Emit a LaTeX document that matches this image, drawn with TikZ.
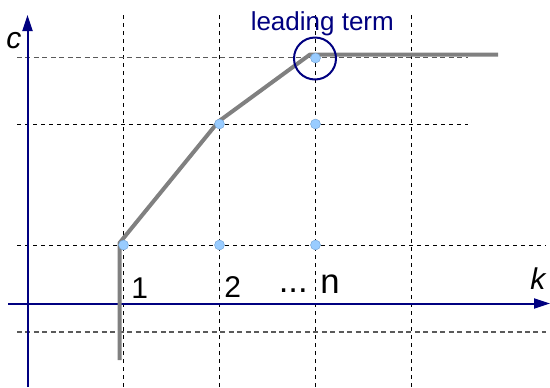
\documentclass[tikz,border=0pt]{standalone}
\usepackage{fontspec}
\setmainfont{Liberation Sans}
\usetikzlibrary{arrows.meta}
\definecolor{axisblue}{HTML}{000080}
\definecolor{dotblue}{HTML}{99CCFF}
\definecolor{dotedge}{HTML}{6F9FD0}
\definecolor{curvegray}{HTML}{808080}
\definecolor{gridgray}{HTML}{5A5A5A}
\tikzset{
  gridthin/.style={black, line width=0.75pt, dash pattern=on 3pt off 3pt},
  gridgrey/.style={gridgray, line width=1.1pt, dash pattern=on 3.75pt off 2.6pt},
  axisline/.style={axisblue, line width=1.5pt, -{Triangle[length=12pt,width=7.5pt]}},
  curve/.style={curvegray, line width=3pt, line join=round},
  dotnode/.style={circle, fill=dotblue, draw=dotedge, line width=0.3pt, minimum size=7.5pt, inner sep=0pt},
  lbl/.style={inner sep=0pt, anchor=base west, font=\fontsize{22.5}{24}\selectfont},
  lblbig/.style={inner sep=0pt, anchor=base west, font=\fontsize{26}{28}\selectfont},
}
\begin{document}
\begin{tikzpicture}[x=0.75pt, y=-0.75pt]
\useasboundingbox (0,0) rectangle (550,387);
% grid coordinates
\coordinate (v1t) at (123.5,15); \coordinate (v1b) at (123.5,387);
\coordinate (v2t) at (219.5,15); \coordinate (v2b) at (219.5,387);
\coordinate (v3t) at (315.5,15); \coordinate (v3b) at (315.5,387);
\coordinate (v4t) at (411.5,15); \coordinate (v4b) at (411.5,387);
\coordinate (h1l) at (17,57.5);  \coordinate (h1r) at (468,57.5);
\coordinate (h2l) at (17,124);   \coordinate (h2r) at (468,124);
\coordinate (h3l) at (17,245);   \coordinate (h3r) at (546,245);
\coordinate (h4l) at (17,332);   \coordinate (h4r) at (546,332);
\draw[gridthin] (v1t) -- (v1b);
\draw[gridthin] (v2t) -- (v2b);
\draw[gridthin] (v3t) -- (v3b);
\draw[gridthin] (v4t) -- (v4b);
\draw[gridgrey] (h1l) -- (h1r);
\draw[gridthin] (h2l) -- (h2r);
\draw[gridthin] (h3l) -- (h3r);
\draw[gridgrey] (h4l) -- (h4r);
% axes
\coordinate (yb) at (27.5,387); \coordinate (yt) at (27.5,15);
\coordinate (xl) at (8,303.5);  \coordinate (xr) at (550,303.5);
\draw[axisline] (yb) -- (yt);
\draw[axisline] (xl) -- (xr);
% curve
\coordinate (c0) at (119.5,360);
\coordinate (c1) at (119.5,243);
\coordinate (c2) at (218.5,121.5);
\coordinate (c3) at (310,54.5);
\coordinate (c4) at (498,54.5);
\draw[curve] (c0) -- (c1) -- (c2) -- (c3) -- (c4);
% dots
\node[dotnode] (d11) at (123.5,245) {};
\node[dotnode] (d21) at (219.5,245) {};
\node[dotnode] (d31) at (315.5,245) {};
\node[dotnode] (d22) at (219.5,124) {};
\node[dotnode] (d32) at (315.5,124) {};
\node[dotnode] (d33) at (315.5,58) {};
% leading term circle
\node[circle, draw=axisblue, line width=1.5pt, minimum size=31.5pt, inner sep=0pt] (lead) at (315,58.5) {};
\node[inner sep=0pt, anchor=base west, text=axisblue, font=\fontsize{19.5}{21}\selectfont] (leadtxt) at (250.5,30) {leading term};
% labels
\node[lbl, font=\fontsize{22.5}{24}\selectfont\itshape] (lc) at (6,48) {c};
\node[lbl, font=\fontsize{22.5}{24}\selectfont\itshape] (lk) at (530,289) {k};
\node[lbl] (l1) at (131,298) {1};
\node[lbl] (l2) at (224,297.5) {2};
\node[lblbig] (ldots) at (278.5,292.5) {...};
\node[lblbig] (ln) at (320,293) {n};
\end{tikzpicture}
\end{document}
